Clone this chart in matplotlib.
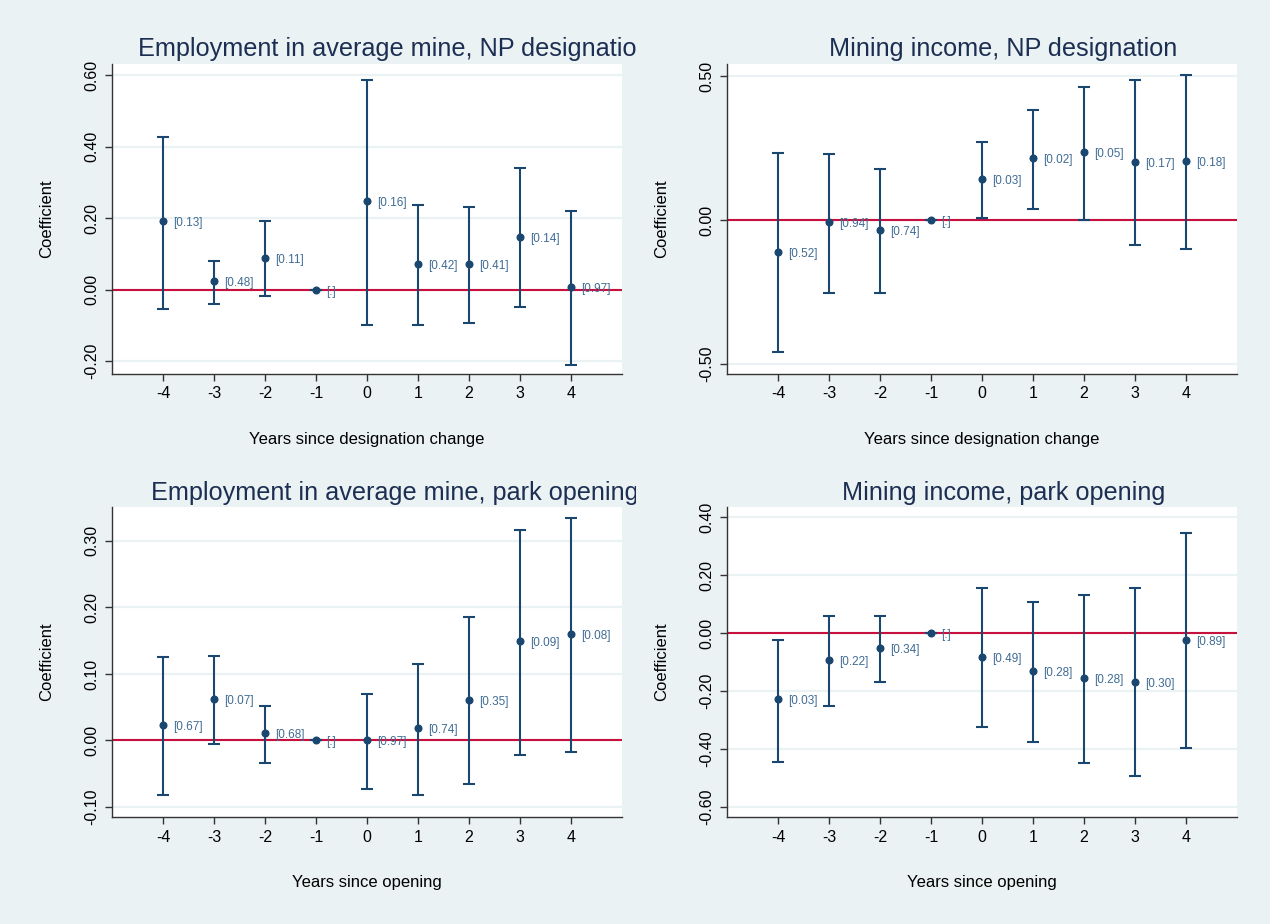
import matplotlib as mpl
import matplotlib.pyplot as plt
from matplotlib.transforms import Bbox, TransformedBbox
import numpy as np

mpl.rcParams.update({
    "font.family": ["Liberation Sans", "DejaVu Sans"],
    "axes.linewidth": 1.0,
    "xtick.direction": "out",
    "ytick.direction": "out",
})

# --- Data ---
years = [-4, -3, -2, -1, 0, 1, 2, 3, 4]

emp_np_coef = [0.191, 0.024, 0.089, 0.0, 0.247, 0.072, 0.071, 0.148, 0.007]
emp_np_lo = [-0.053, -0.039, -0.019, 0.0, -0.099, -0.099, -0.094, -0.049, -0.212]
emp_np_hi = [0.428, 0.080, 0.191, 0.0, 0.587, 0.237, 0.230, 0.340, 0.219]
emp_np_p = ["[0.13]", "[0.48]", "[0.11]", "[.]", "[0.16]", "[0.42]", "[0.41]", "[0.14]", "[0.97]"]

inc_np_coef = [-0.110, -0.007, -0.034, 0.0, 0.145, 0.215, 0.237, 0.204, 0.207]
inc_np_lo = [-0.458, -0.252, -0.252, 0.0, 0.009, 0.040, 0.002, -0.087, -0.098]
inc_np_hi = [0.233, 0.230, 0.177, 0.0, 0.271, 0.384, 0.464, 0.487, 0.505]
inc_np_p = ["[0.52]", "[0.94]", "[0.74]", "[.]", "[0.03]", "[0.02]", "[0.05]", "[0.17]", "[0.18]"]

emp_open_coef = [0.024, 0.063, 0.011, 0.0, 0.0, 0.0185, 0.0615, 0.149, 0.1605]
emp_open_lo = [-0.0815, -0.005, -0.0345, 0.0, -0.0725, -0.0815, -0.0655, -0.0225, -0.017]
emp_open_hi = [0.126, 0.1275, 0.0525, 0.0, 0.0705, 0.115, 0.186, 0.317, 0.3345]
emp_open_p = ["[0.67]", "[0.07]", "[0.68]", "[.]", "[0.97]", "[0.74]", "[0.35]", "[0.09]", "[0.08]"]

inc_open_coef = [-0.229, -0.092, -0.052, 0.0, -0.081, -0.130, -0.155, -0.167, -0.022]
inc_open_lo = [-0.444, -0.250, -0.170, 0.0, -0.325, -0.377, -0.449, -0.495, -0.396]
inc_open_hi = [-0.022, 0.059, 0.060, 0.0, 0.155, 0.109, 0.132, 0.156, 0.346]
inc_open_p = ["[0.03]", "[0.22]", "[0.34]", "[.]", "[0.49]", "[0.28]", "[0.28]", "[0.30]", "[0.89]"]

titles = ["Employment in average mine, NP designation", "Mining income, NP designation",
          "Employment in average mine, park opening", "Mining income, park opening"]
xlabels = ["Years since designation change", "Years since designation change",
           "Years since opening", "Years since opening"]

# --- Style ---
bg = "#EAF2F3"
navy = "#1A476F"
label_col = "#3F6B94"
red = "#C8103E"

W, H = 1270, 924
fig = plt.figure(figsize=(W / 100, H / 100), dpi=100, facecolor=bg)

panels = [
    dict(rect=[112, 64, 622, 374], coef=emp_np_coef, lo=emp_np_lo, hi=emp_np_hi, p=emp_np_p,
         ylim=(-0.236, 0.631), yticks=[-0.2, 0.0, 0.2, 0.4, 0.6],
         title_x=394, title_y=49, clip=(0, 636)),
    dict(rect=[727, 64, 1237, 374], coef=inc_np_coef, lo=inc_np_lo, hi=inc_np_hi, p=inc_np_p,
         ylim=(-0.534, 0.543), yticks=[-0.5, 0.0, 0.5],
         title_x=1003, title_y=49, clip=(636, W)),
    dict(rect=[112, 507, 622, 817], coef=emp_open_coef, lo=emp_open_lo, hi=emp_open_hi, p=emp_open_p,
         ylim=(-0.115, 0.351), yticks=[-0.1, 0.0, 0.1, 0.2, 0.3],
         title_x=395, title_y=493, clip=(0, 636)),
    dict(rect=[727, 507, 1237, 817], coef=inc_open_coef, lo=inc_open_lo, hi=inc_open_hi, p=inc_open_p,
         ylim=(-0.635, 0.436), yticks=[-0.6, -0.4, -0.2, 0.0, 0.2, 0.4],
         title_x=1004, title_y=493, clip=(636, W)),
]

for i, pn in enumerate(panels):
    x0, y0, x1, y1 = pn["rect"]
    ax = fig.add_axes([x0 / W, 1 - y1 / H, (x1 - x0) / W, (y1 - y0) / H])
    ax.set_facecolor("white")
    coef = np.array(pn["coef"])
    yerr = [coef - np.array(pn["lo"]), np.array(pn["hi"]) - coef]

    ax.set_yticks(pn["yticks"])
    ax.grid(axis="y", color=bg, linewidth=1.6)
    ax.set_axisbelow(True)
    ax.axhline(0, color=red, linewidth=1.5, zorder=2)

    ax.errorbar(years, coef, yerr=yerr, fmt="o", color=navy, ecolor=navy,
                markersize=4.8, elinewidth=1.5, capsize=4.5, capthick=1.5, zorder=3)
    for xv, yv, lab in zip(years, coef, pn["p"]):
        ax.annotate(lab, (xv, yv), xytext=(10, -2), textcoords="offset pixels",
                    ha="left", va="center", fontsize=8.5, color=label_col, zorder=4)

    ax.set_xlim(-5, 5)
    ax.set_ylim(*pn["ylim"])
    ax.set_xticks(years)
    ax.set_xticklabels([str(v) for v in years])
    ax.set_yticklabels(["{:.2f}".format(v) for v in pn["yticks"]],
                       rotation=90, va="center")
    ax.tick_params(axis="both", labelsize=11.5, length=5, width=1.0, color="#333333")
    ax.tick_params(axis="y", pad=4)
    ax.tick_params(axis="x", pad=4)
    for s in ["top", "right"]:
        ax.spines[s].set_visible(False)
    for s in ["left", "bottom"]:
        ax.spines[s].set_color("#333333")

    ax.set_ylabel("Coefficient", fontsize=12, labelpad=22)
    ax.set_xlabel(xlabels[i], fontsize=12, labelpad=22)

    t = fig.text(pn["title_x"] / W, 1 - pn["title_y"] / H, titles[i],
                 ha="center", va="center", fontsize=18.2, color="#1C2E52")
    cx0, cx1 = pn["clip"]
    t.set_clip_box(TransformedBbox(Bbox([[cx0 / W, 0], [cx1 / W, 1]]), fig.transFigure))
    t.set_clip_on(True)

fig.savefig("out.png", dpi=100, facecolor=bg)
